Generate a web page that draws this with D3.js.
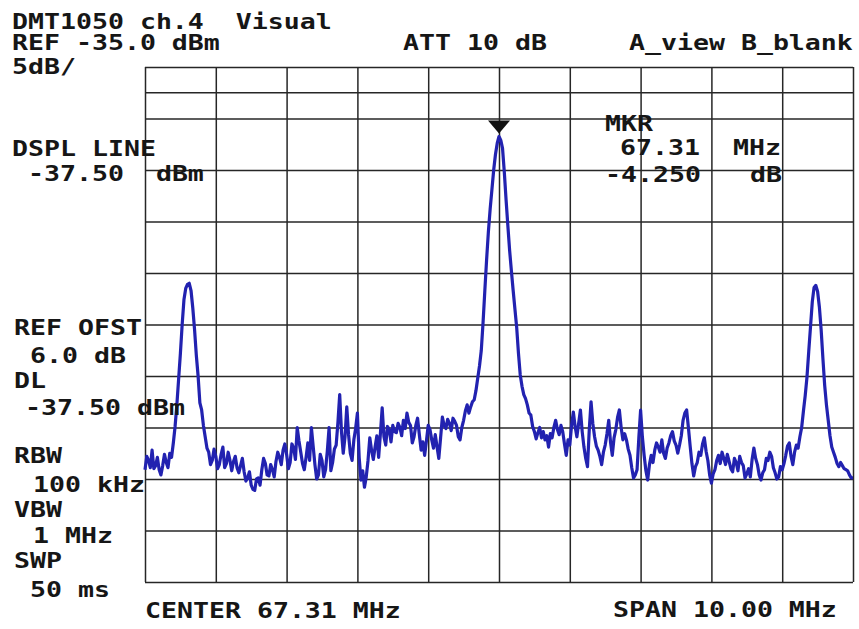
<!DOCTYPE html>
<html>
<head>
<meta charset="utf-8">
<script src="https://cdn.jsdelivr.net/npm/d3@7/dist/d3.min.js"></script>
<style>
  html, body { margin: 0; padding: 0; background: #ffffff; }
  svg { display: block; }
  text { font-family: "DejaVu Sans Mono", "Liberation Mono", monospace; font-weight: bold; white-space: pre; fill: #161616; }
</style>
</head>
<body>
<svg id="chart" width="859" height="629"></svg>
<script>
// Analyzer settings
const instrumentTitle = "DMT1050 ch.4  Visual";
const refLevel = -35.0;        // dBm, top graticule line
const dbPerDiv = 5;
const verticalDivs = 10;
const horizontalDivs = 10;
const attenuation = 10;        // dB
const traceModes = "A_view B_blank";
const displayLine = -37.50;    // dBm
const refOffset = 6.0;         // dB
const centerFreq = 67.31;      // MHz
const spanMHz = 10.00;         // MHz
const rbwLabel = "100 kHz";
const vbwLabel = "1 MHz";
const sweepLabel = "50 ms";
const markerFreq = 67.31;      // MHz
const markerDelta = -4.250;    // dB relative to display line

// Trace A, 401 sweep points across the span (dBm)
const traceDbm = [
  -74.1,-72.8, -73.2,-73.9, -72.2,-74.0, -73.7,-72.9, -74.1,-74.6, -73.7,-72.6, -73.4,-73.9, -72.5,-72.9, -71.5,-69.9, -67.8,-65.3,
  -62.8,-60.0, -57.6,-56.5, -56.1,-56.0, -56.7,-58.4, -60.5,-63.0, -65.0,-67.6, -68.3,-69.8, -70.9,-72.0, -72.4,-73.6, -73.2,-72.1,
  -72.8,-74.0, -73.6,-72.6, -71.9,-73.9, -73.5,-72.4, -73.2,-74.2, -73.3,-72.8, -73.9,-74.4, -73.7,-73.0, -74.3,-75.2, -74.9,-74.3,
  -75.6,-76.0, -76.1,-75.0, -74.9,-75.6, -74.1,-73.0, -73.5,-74.6, -74.7,-73.6, -74.1,-74.8, -73.3,-72.4, -72.9,-73.6, -72.2,-71.6,
  -72.6,-74.0, -73.4,-71.6, -72.0,-73.1, -70.0,-71.3, -72.4,-73.5, -74.1,-72.9, -71.5,-73.2, -70.0,-71.8, -73.6,-75.0, -74.6,-72.6,
  -73.2,-74.8, -74.1,-72.3, -70.0,-74.2, -73.4,-72.1, -71.7,-69.5, -66.8,-70.4, -72.5,-70.9, -68.0,-70.7, -72.5,-73.2, -71.2,-70.1,
  -68.6,-72.9, -75.1,-74.2, -75.8,-74.8, -73.2,-71.0, -72.2,-73.1, -71.9,-70.8, -72.9,-70.6, -68.1,-70.9, -71.7,-69.9, -70.2,-71.4,
  -69.8,-70.4, -70.5,-69.6, -70.0,-70.8, -69.3,-70.1, -68.6,-69.5, -69.8,-71.5, -70.9,-69.8, -69.1,-70.7, -72.2,-71.4, -72.7,-71.3,
  -69.8,-70.2, -71.2,-72.0, -70.7,-71.9, -73.0,-71.0, -69.0,-69.8, -70.1,-69.2, -69.6,-70.3, -69.1,-69.4, -69.8,-70.9, -71.2,-70.0,
  -69.3,-68.4, -67.8,-68.6, -68.0,-67.5, -67.3,-66.4, -65.2,-64.0, -62.5,-59.8, -56.7,-53.7, -51.0,-48.8, -46.9,-45.0, -43.5,-42.4,
  -41.75,-42.1, -42.9,-45.2, -47.9,-50.4, -52.8,-54.8, -56.7,-58.5, -60.3,-62.8, -64.9,-66.0, -66.8,-67.2, -67.8,-68.6, -68.8,-69.9,
  -70.4,-71.1, -70.5,-70.0, -71.0,-70.4, -71.2,-70.8, -71.9,-70.6, -71.0,-70.0, -69.3,-70.2, -70.7,-69.8, -70.4,-71.6, -72.7,-71.2,
  -71.7,-69.8, -68.5,-69.9, -70.9,-69.6, -68.3,-70.4, -71.9,-73.0, -73.8,-70.2, -67.5,-69.6, -70.9,-71.8, -72.2,-72.8, -73.6,-72.4,
  -71.7,-70.6, -69.3,-71.4, -72.7,-71.0, -70.2,-69.0, -68.3,-70.0, -71.2,-70.6, -71.2,-72.1, -72.7,-73.9, -74.9,-74.6, -74.1,-71.0,
  -68.3,-70.9, -72.7,-74.2, -75.1,-73.6, -72.7,-73.4, -72.2,-71.5, -71.9,-72.4, -71.2,-72.5, -73.0,-72.0, -71.5,-70.8, -70.4,-71.3,
  -71.7,-72.5, -71.7,-70.8, -69.3,-68.6, -68.3,-70.0, -71.8,-73.5, -74.7,-73.8, -73.4,-72.4, -72.7,-71.6, -71.0,-72.3, -73.2,-74.6,
  -75.4,-74.5, -74.1,-73.2, -72.7,-73.5, -72.4,-73.0, -73.6,-72.6, -73.3,-74.0, -74.3,-73.0, -73.4,-74.2, -72.8,-73.4, -73.7,-74.9,
  -74.5,-74.0, -74.8,-73.1, -72.0,-73.0, -73.6,-74.6, -75.1,-74.4, -74.1,-73.0, -73.2,-72.4, -72.8,-73.9, -74.4,-75.0, -74.8,-73.8,
  -74.1,-73.5, -72.7,-71.8, -71.5,-72.8, -73.6,-72.4, -71.7,-72.0, -70.9,-70.0, -68.4,-66.9, -65.1,-62.6, -60.2,-57.8, -56.4,-56.2,
  -56.8,-58.3, -60.5,-63.3, -65.9,-67.8, -69.3,-70.8, -71.9,-72.4, -72.9,-73.5, -73.8,-73.4, -73.7,-74.0, -74.1,-74.2, -74.6,-74.9,
  -74.9
];

// ---- layout ----
const svg = d3.select("#chart");
const plot = { left: 145, right: 853, top: 67, bottom: 582 };
const charPitch = 16;
const fontSize = 22;
const stretch = charPitch / (0.602 * fontSize);

const startFreq = centerFreq - spanMHz / 2;
const stopFreq = centerFreq + spanMHz / 2;
const bottomLevel = refLevel - dbPerDiv * verticalDivs;

const x = d3.scaleLinear().domain([startFreq, stopFreq]).range([plot.left, plot.right]);
const y = d3.scaleLinear().domain([bottomLevel, refLevel]).range([plot.bottom, plot.top]);

const freqTicks = d3.range(horizontalDivs + 1).map(i => startFreq + i * spanMHz / horizontalDivs);
const levelTicks = d3.range(verticalDivs + 1).map(i => bottomLevel + i * dbPerDiv);

// graticule
const gridColor = "#262626";
svg.append("g")
  .attr("transform", `translate(0,${plot.bottom})`)
  .call(d3.axisBottom(x).tickValues(freqTicks).tickSize(-(plot.bottom - plot.top)).tickFormat(""))
  .call(g => g.select(".domain").remove())
  .call(g => g.selectAll("line").attr("stroke", gridColor).attr("stroke-width", 1.5));

svg.append("g")
  .attr("transform", `translate(${plot.left},0)`)
  .call(d3.axisLeft(y).tickValues(levelTicks).tickSize(-(plot.right - plot.left)).tickFormat(""))
  .call(g => g.select(".domain").remove())
  .call(g => g.selectAll("line").attr("stroke", gridColor).attr("stroke-width", 1.5));

// display line
svg.append("line")
  .attr("x1", x(startFreq)).attr("x2", x(stopFreq))
  .attr("y1", y(displayLine)).attr("y2", y(displayLine))
  .attr("stroke", gridColor).attr("stroke-width", 1.5);

// text helper: monospace, stretched to the analyzer's character pitch
function label(str, px, py) {
  svg.append("text")
    .attr("transform", `translate(${px},${py}) scale(${stretch},1)`)
    .attr("font-size", fontSize)
    .text(str);
}

// trace
const n = traceDbm.length;
const points = traceDbm.map((v, i) => [startFreq + i * spanMHz / (n - 1), v]);
svg.append("path")
  .datum(points)
  .attr("fill", "none")
  .attr("stroke", "#2222b0")
  .attr("stroke-width", 3.2)
  .attr("stroke-linejoin", "round")
  .attr("d", d3.line().x(d => x(d[0])).y(d => y(d[1])));

// marker
const mkLevel = displayLine + markerDelta;
const mx = x(markerFreq), my = y(mkLevel) - 3;
svg.append("path")
  .attr("d", `M${mx - 11},${my - 13} L${mx + 11},${my - 13} L${mx},${my} Z`)
  .attr("fill", "#111");

// header
label(instrumentTitle, 12, 29);
label(`REF ${refLevel.toFixed(1)} dBm`, 12, 50);
label(`ATT ${attenuation} dB`, 403, 50);
label(traceModes, 629, 50);
label(`${dbPerDiv}dB/`, 12, 74);

// left annotations
label("DSPL LINE", 12, 156);
label(`${displayLine.toFixed(2)}  dBm`, 28, 181);
label("REF OFST", 14, 335);
label(`${refOffset.toFixed(1)} dB`, 30, 363);
label("DL", 14, 388);
label(`${displayLine.toFixed(2)} dBm`, 25, 415);
label("RBW", 14, 463);
label(rbwLabel, 33, 492);
label("VBW", 14, 517);
label(vbwLabel, 33, 543);
label("SWP", 14, 568);
label(sweepLabel, 30, 597);

// marker readout
label("MKR", 605, 131);
label(markerFreq.toFixed(2), 620, 155);
label("MHz", 733, 155);
label(markerDelta.toFixed(3), 605, 182);
label("dB", 750, 182);

// footer
label(`CENTER ${centerFreq.toFixed(2)} MHz`, 145, 618);
label(`SPAN ${spanMHz.toFixed(2)} MHz`, 613, 617);
</script>
</body>
</html>
